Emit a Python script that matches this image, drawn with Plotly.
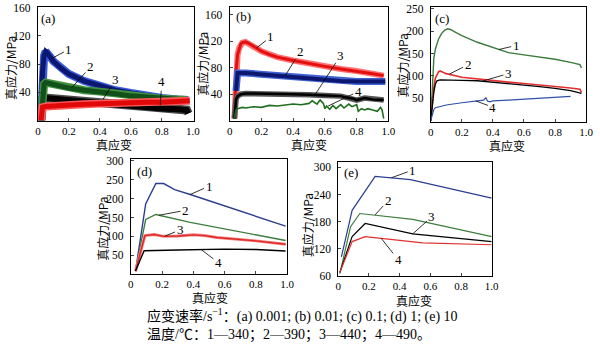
import plotly.graph_objects as go

# ---------------- data ----------------
# (a) strain rate 0.001 s^-1
a1_x = [0.02, 0.025, 0.03, 0.04, 0.05, 0.06, 0.08, 0.1, 0.15, 0.2, 0.3, 0.4, 0.5, 0.6, 0.7, 0.8, 0.9, 0.97]
a1_y = [0, 40, 70, 92, 98, 96, 90, 84, 74, 66, 56, 49, 43, 39, 35, 32, 30, 29]
a2_x = [0.02, 0.03, 0.04, 0.05, 0.07, 0.1, 0.2, 0.3, 0.4, 0.5, 0.6, 0.7, 0.8, 0.9, 0.96]
a2_y = [0, 40, 52, 54, 53, 51, 46, 43, 41, 38, 35, 33, 31, 30, 29]
a3_x = [0.02, 0.025, 0.03, 0.05, 0.1, 0.2, 0.3, 0.4, 0.5, 0.6, 0.7, 0.8, 0.9, 0.98]
a3_y = [0, 15, 19, 20, 21, 22, 23, 24, 25, 25, 26, 26, 27, 28]
a4_x = [0.02, 0.025, 0.03, 0.05, 0.1, 0.2, 0.3, 0.4, 0.5, 0.6, 0.7, 0.8, 0.9, 0.96, 0.97]
a4_y = [0, 25, 30, 32, 31, 28, 25, 23, 21, 19, 18, 17, 16, 15, 10]

# (b) strain rate 0.01 s^-1
b1_x = [0.03, 0.035, 0.04, 0.05, 0.06, 0.07, 0.08, 0.1, 0.12, 0.15, 0.2, 0.25, 0.3, 0.4, 0.5, 0.6, 0.7, 0.8, 0.9, 0.97]
b1_y = [3, 40, 75, 100, 110, 116, 118, 119, 117, 112, 105, 100, 96, 91, 86, 82, 78, 75, 71, 68]
b2_x = [0.04, 0.045, 0.05, 0.1, 0.2, 0.3, 0.4, 0.5, 0.6, 0.7, 0.8, 0.9, 0.98]
b2_y = [45, 66, 72, 72, 70, 67, 65, 63, 61, 60, 59, 59, 59]
b3_x = [0.03, 0.035, 0.04, 0.05, 0.07, 0.1, 0.2, 0.3, 0.4, 0.5, 0.6, 0.7, 0.75, 0.78, 0.8, 0.85, 0.9, 0.97]
b3_y = [3, 20, 32, 37, 40, 41, 41, 40, 40, 39, 38, 37, 34, 33, 31, 34, 32, 31]
b4_x = [0.03, 0.035, 0.04, 0.05, 0.08, 0.1, 0.15, 0.2, 0.25, 0.3, 0.35, 0.4, 0.45, 0.5, 0.52, 0.55,
        0.57, 0.59, 0.6, 0.61, 0.63, 0.65, 0.67, 0.7, 0.72, 0.75, 0.77, 0.8, 0.81, 0.83, 0.85, 0.87,
        0.9, 0.93, 0.95, 0.96, 0.97]
b4_y = [3, 12, 16, 18, 20, 19, 21, 20, 23, 22, 24, 25, 24, 26, 30, 25,
        31, 26, 18, 22, 17, 23, 18, 24, 19, 25, 21, 24, 14, 18, 16, 18,
        16, 14, 20, 16, 3]

# (c) strain rate 0.1 s^-1
c1_x = [0.0, 0.005, 0.01, 0.015, 0.02, 0.03, 0.04, 0.05, 0.07, 0.09, 0.11, 0.13, 0.16, 0.2, 0.3, 0.4, 0.5, 0.6, 0.7, 0.8, 0.9, 0.96, 0.97]
c1_y = [0, 30, 80, 115, 140, 160, 172, 182, 195, 202, 205, 203, 197, 190, 175, 163, 152, 147, 142, 137, 130, 125, 118]
c2_x = [0.0, 0.01, 0.02, 0.03, 0.04, 0.05, 0.06, 0.08, 0.1, 0.2, 0.3, 0.4, 0.5, 0.6, 0.7, 0.8, 0.9, 0.96, 0.97]
c2_y = [0, 40, 75, 95, 104, 109, 111, 108, 105, 97, 93, 89, 86, 83, 80, 76, 73, 70, 63]
c3_x = [0.0, 0.01, 0.02, 0.03, 0.04, 0.06, 0.1, 0.2, 0.3, 0.4, 0.5, 0.6, 0.7, 0.8, 0.9, 0.97]
c3_y = [0, 35, 65, 82, 89, 91, 91, 90, 89, 86, 83, 80, 76, 72, 67, 61]
c4_x = [0.0, 0.01, 0.02, 0.03, 0.05, 0.1, 0.2, 0.3, 0.34, 0.355, 0.365, 0.38, 0.4, 0.5, 0.6, 0.7, 0.8, 0.9]
c4_y = [0, 15, 25, 29, 31, 35, 40, 44, 46, 51, 44, 42, 44, 46, 48, 50, 52, 54]

# (d) strain rate 1 s^-1
d1_x = [0.03, 0.095, 0.16, 0.21, 0.28, 0.38, 0.99]
d1_y = [8, 186, 240, 240, 224, 211, 127]
d2_x = [0.03, 0.095, 0.16, 0.38, 0.99]
d2_y = [8, 145, 158, 137, 89]
d3_x = [0.03, 0.09, 0.15, 0.21, 0.3, 0.4, 0.47, 0.55, 0.8, 0.99]
d3_y = [8, 102, 105, 100, 101, 104, 102, 97, 88, 79]
d4_x = [0.03, 0.085, 0.3, 0.6, 0.8, 0.99]
d4_y = [8, 62, 64, 66, 65, 61]

# (e) strain rate 10 s^-1
e1_x = [0.02, 0.09, 0.24, 0.47, 1.0]
e1_y = [102, 205, 280, 273, 232]
e2_x = [0.01, 0.08, 0.14, 0.485, 1.0]
e2_y = [65, 169, 198, 185, 147]
e3_x = [0.01, 0.09, 0.175, 0.485, 1.0]
e3_y = [68, 147, 176, 153, 136]
e4_x = [0.01, 0.09, 0.175, 0.55, 1.0]
e4_y = [68, 136, 147, 133, 129]

x_ticks = [0, 0.2, 0.4, 0.6, 0.8, 1.0]
x_ticktext = ["0", "0.2", "0.4", "0.6", "0.8", "1.0"]
yticks_a = [40, 80, 120, 160]
yticks_b = [40, 80, 120, 160]
yticks_c = [50, 100, 150, 200, 250]
yticks_d = [50, 100, 150, 200, 250, 300]
yticks_e = [60, 120, 180, 240, 300]

caption_rate = "应变速率/s<sup>−1</sup>：(a) 0.001; (b) 0.01; (c) 0.1; (d) 1; (e) 10"
caption_temp = "温度/℃：1—340；2—390；3—440；4—490。"

# ---------------- layout geometry (pixels) ----------------
W, H = 600, 350
SERIF = "Liberation Serif, Noto Sans CJK SC"
CJK = "Noto Sans CJK SC, Liberation Serif"

def px(xp):
    return xp / W

def py(yp):
    return 1 - yp / H

panels = {
    # name: (x0, x1, ytop, ybottom, yrange, yticks, xrange)
    "a": (35.5, 194, 3, 120, [0, 161], yticks_a, [0, 1.006]),
    "b": (230.5, 392, 3, 120, [0, 172], yticks_b, [0, 1.0]),
    "c": (435, 593, 3, 121, [-2, 254], yticks_c, [0, 1.0]),
    "d": (130, 289, 160, 278, [0, 304], yticks_d, [0, 1.0]),
    "e": (341, 497, 163, 280, [60, 311], yticks_e, [0, 1.0]),
}
order = ["a", "b", "c", "d", "e"]

fig = go.Figure()
layout = dict(
    width=W, height=H, margin=dict(l=0, r=0, t=0, b=0),
    paper_bgcolor="white", plot_bgcolor="white", showlegend=False,
    font=dict(family=SERIF, size=12, color="black"),
)

for i, name in enumerate(order):
    n = "" if i == 0 else str(i + 1)
    x0, x1, yt, yb, yr, yt_vals, xr = panels[name]
    layout["xaxis" + n] = dict(
        domain=[px(x0), px(x1)], anchor="y" + n, range=xr,
        tickvals=x_ticks, ticktext=x_ticktext, ticks="inside", ticklen=3,
        showline=True, mirror=True, linecolor="black", linewidth=1,
        showgrid=False, zeroline=False, tickfont=dict(size=11, family=SERIF),
    )
    layout["yaxis" + n] = dict(
        domain=[py(yb), py(yt)], anchor="x" + n, range=yr,
        tickvals=yt_vals, ticks="inside", ticklen=3,
        showline=True, mirror=True, linecolor="black", linewidth=1,
        showgrid=False, zeroline=False, tickfont=dict(size=11.5, family=SERIF),
        ticklabelstandoff=4,
    )

fig.update_layout(**layout)

def add(ax, xs, ys, color, width):
    n = "" if ax == 1 else str(ax)
    fig.add_trace(go.Scatter(x=xs, y=ys, mode="lines", xaxis="x" + n, yaxis="y" + n,
                             line=dict(color=color, width=width), hoverinfo="skip"))

def band(ax, xs, ys, halo, core, w):
    add(ax, xs, ys, halo, w + 3)
    add(ax, xs, ys, core, w)

# (a) noisy bands
band(1, a4_x, a4_y, "#4a4a4a", "#000000", 6)
band(1, a1_x, a1_y, "#3a5ad8", "#0c1870", 5)
band(1, a2_x, a2_y, "#3f8f3f", "#12501a", 5)
band(1, a3_x, a3_y, "#ff5a5a", "#e00808", 5)

# (b)
band(2, b1_x, b1_y, "#ff7070", "#e41010", 3)
band(2, b2_x, b2_y, "#4060d0", "#0c1870", 4)
band(2, b3_x, b3_y, "#555555", "#000000", 2.5)
add(2, b4_x, b4_y, "#1f6e1f", 1.6)

# (c)
add(3, c1_x, c1_y, "#3a7a3a", 1.4)
add(3, c2_x, c2_y, "#e23030", 1.6)
add(3, c3_x, c3_y, "#000000", 1.4)
add(3, c4_x, c4_y, "#3050a8", 1.2)

# (d)
add(4, d1_x, d1_y, "#2b3d8f", 1.4)
add(4, d2_x, d2_y, "#3d7d3d", 1.4)
add(4, d3_x, d3_y, "#f08080", 3)
add(4, d3_x, d3_y, "#e02828", 1.4)
add(4, d4_x, d4_y, "#000000", 1.4)

# (e)
add(5, e1_x, e1_y, "#2b3d8f", 1.2)
add(5, e2_x, e2_y, "#3d7d3d", 1.2)
add(5, e3_x, e3_y, "#000000", 1.2)
add(5, e4_x, e4_y, "#e03030", 1.2)

annotations = []

def curve_label(ax, text, tip, pos):
    n = "" if ax == 1 else str(ax)
    annotations.append(dict(
        x=tip[0], y=tip[1], xref="x" + n, yref="y" + n,
        ax=pos[0], ay=pos[1], axref="x" + n, ayref="y" + n,
        text=text, showarrow=True, arrowhead=0, arrowwidth=0.8, arrowcolor="black",
        font=dict(size=13, family=SERIF, color="black"), standoff=0, startstandoff=0,
    ))

# curve number labels with leader lines
curve_label(1, "1", (0.09, 88), (0.2, 101))
curve_label(1, "2", (0.22, 47), (0.34, 76))
curve_label(1, "3", (0.42, 30), (0.5, 58))
curve_label(1, "4", (0.79, 22), (0.8, 55))

curve_label(2, "1", (0.17, 110), (0.26, 127))
curve_label(2, "2", (0.35, 68), (0.445, 105))
curve_label(2, "3", (0.54, 40), (0.70, 99))
curve_label(2, "4", (0.62, 22), (0.81, 44))

curve_label(3, "1", (0.44, 159), (0.55, 168))
curve_label(3, "2", (0.12, 104), (0.24, 125))
curve_label(3, "3", (0.33, 88), (0.50, 105))
curve_label(3, "4", (0.29, 44), (0.40, 30))

curve_label(4, "1", (0.38, 211), (0.5, 233))
curve_label(4, "2", (0.18, 156), (0.35, 169))
curve_label(4, "3", (0.22, 101), (0.315, 117))
curve_label(4, "4", (0.45, 65), (0.56, 30))

curve_label(5, "1", (0.346, 277), (0.485, 294))
curve_label(5, "2", (0.24, 195), (0.325, 227))
curve_label(5, "3", (0.485, 153), (0.61, 191))
curve_label(5, "4", (0.28, 143), (0.39, 96))

def ptext(text, x, y, size=13, family=SERIF, angle=0, xanchor="center"):
    annotations.append(dict(
        x=px(x), y=py(y), xref="paper", yref="paper", text=text, showarrow=False,
        textangle=angle, xanchor=xanchor, yanchor="middle",
        font=dict(size=size, family=family, color="black"),
    ))

# panel letters
ptext("(a)", 46, 15)
ptext("(b)", 245, 13)
ptext("(c)", 446, 15)
ptext("(d)", 144, 172)
ptext("(e)", 354, 173)

# axis titles
ytitle = "真应力/MPa"
xtitle = "真应变"
for (xt_x, xt_y, yt_x, yt_y) in [(113, 145, 7, 66), (311, 145, 203, 62), (513, 146, 406, 63),
                                  (210, 302, 101, 231), (418, 305, 310, 228)]:
    ptext(xtitle, xt_x, xt_y, size=12, family=CJK)
    ptext(ytitle, yt_x, yt_y, size=12, family=CJK, angle=-90)

# bottom caption
ptext(caption_rate, 144, 321, size=14, xanchor="left")
ptext(caption_temp, 144, 341, size=14, xanchor="left")

fig.update_layout(annotations=annotations)
fig.write_html("out.html")
